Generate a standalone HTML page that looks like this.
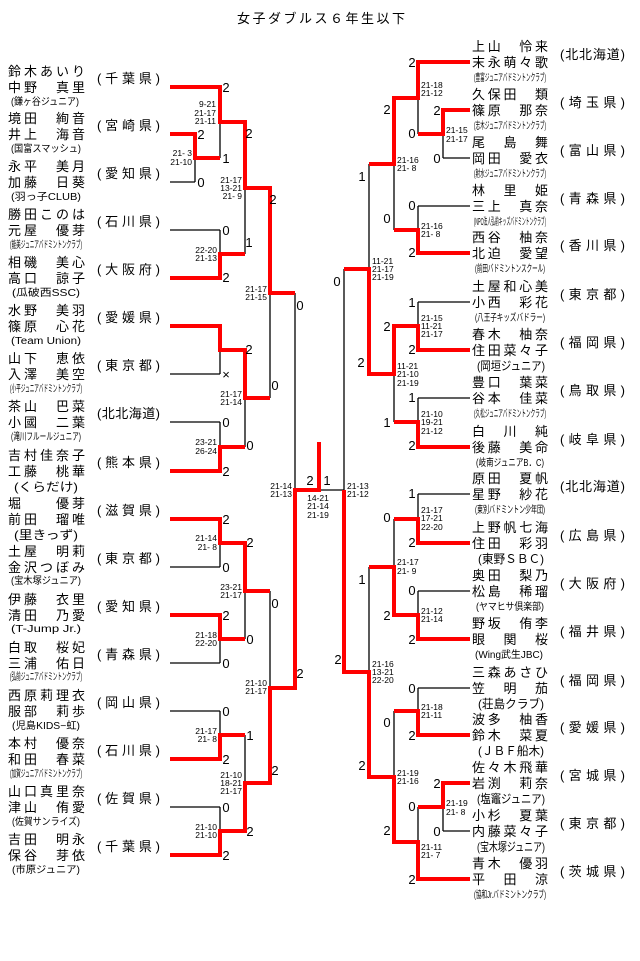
<!DOCTYPE html>
<html><head><meta charset="utf-8"><style>
html,body{margin:0;padding:0;background:#fff;width:640px;height:961px;overflow:hidden}
svg{display:block}
.n{font-family:"Liberation Sans","Noto Sans CJK JP",sans-serif;font-size:13px;fill:#000}
.c{font-family:"Liberation Sans","Noto Sans CJK JP",sans-serif;font-size:10px;fill:#000}
.cb{font-family:"Liberation Sans","Noto Sans CJK JP",sans-serif;font-size:12px;fill:#000}
.s{font-family:"Liberation Sans",sans-serif;font-size:13px;fill:#000}
.m{font-family:"Liberation Sans",sans-serif;font-size:8.5px;fill:#000}
</style></head><body>
<svg width="640" height="961" viewBox="0 0 640 961" xmlns="http://www.w3.org/2000/svg">
<text class="n" x="237" y="23" font-size="14" textLength="168" lengthAdjust="spacing">女子ダブルス６年生以下</text>

<path fill="none" stroke="#000" stroke-width="1.3" d="
M170 87H220 M170 134H195 M170 182H195 M170 230H220 M170 278H220 M170 326H220 M170 374H220 M170 422H220 M170 471H220 M170 519H220 M170 567H220 M170 615H220 M170 663H220 M170 711H220 M170 759H220 M170 807H220 M170 855H220
M195 134V182 M195 158H220 M220 87V158 M220 122H245 M220 230V278 M220 254H245 M245 122V254 M245 188H270 M220 326V374 M220 350H245 M220 422V471 M220 447H245 M245 350V447 M245 398H270 M270 188V398 M270 293H295 M220 519V567 M220 543H245 M220 615V663 M220 639H245 M245 543V639 M245 591H270 M220 711V759 M220 735H245 M220 807V855 M220 831H245 M245 735V831 M245 783H270 M270 591V783 M270 688H295 M295 293V688 M295 490H344
M470 62H418 M470 110H443 M470 158H443 M470 206H418 M470 253H418 M470 302H418 M470 350H418 M470 398H418 M470 447H418 M470 494H418 M470 543H418 M470 591H418 M470 639H418 M470 688H418 M470 735H418 M470 783H443 M470 831H443 M470 879H418
M443 110V158 M443 134H418 M418 62V134 M418 98H394 M418 206V253 M418 230H394 M394 98V230 M394 164H369 M418 302V350 M418 326H394 M418 398V447 M418 422H394 M394 326V422 M394 374H369 M369 164V374 M369 269H344 M418 494V543 M418 519H394 M418 591V639 M418 615H394 M394 519V615 M394 567H369 M418 688V735 M418 711H394 M443 783V831 M443 807H418 M418 807V879 M418 842H394 M394 711V842 M394 777H369 M369 567V777 M369 672H344 M344 269V672"/>

<path fill="none" stroke="#f00" stroke-width="4" stroke-linejoin="miter" d="
M170 87H220V122H245V188H270V293H295
M170 134H195V158H220
M170 278H220V254H245
M170 326H220V350H245V398H270
M170 471H220V447H245
M170 519H220V543H245V591H270
M170 615H220V639H245
M170 759H220V735H245
M170 855H220V831H245V783H270V688H295V490H319V442
M470 62H418V98H394V164H369
M470 110H443V134H418
M470 253H418V230H394
M470 350H418V326H394V374H369V269H344
M470 447H418V422H394
M470 543H418V519H394
M470 639H418V615H394V567H369
M470 735H418V711H394
M470 783H443V807H418
M470 879H418V842H394V777H369V672H344V490"/>

<!-- left entries -->
<g class="n">
<text x="8" y="76" textLength="77" lengthAdjust="spacing">鈴木あいり</text><text x="8" y="92" textLength="77" lengthAdjust="spacing">中野　真里</text>
<text x="8" y="123" textLength="77" lengthAdjust="spacing">境田　絢音</text><text x="8" y="139" textLength="77" lengthAdjust="spacing">井上　海音</text>
<text x="8" y="171" textLength="77" lengthAdjust="spacing">永平　美月</text><text x="8" y="187" textLength="77" lengthAdjust="spacing">加藤　日葵</text>
<text x="8" y="219" textLength="77" lengthAdjust="spacing">勝田このは</text><text x="8" y="235" textLength="77" lengthAdjust="spacing">元屋　優芽</text>
<text x="8" y="267" textLength="77" lengthAdjust="spacing">相磯　美心</text><text x="8" y="283" textLength="77" lengthAdjust="spacing">高口　諒子</text>
<text x="8" y="315" textLength="77" lengthAdjust="spacing">水野　美羽</text><text x="8" y="331" textLength="77" lengthAdjust="spacing">篠原　心花</text>
<text x="8" y="363" textLength="77" lengthAdjust="spacing">山下　恵依</text><text x="8" y="379" textLength="77" lengthAdjust="spacing">入澤　美空</text>
<text x="8" y="411" textLength="77" lengthAdjust="spacing">茶山　巴菜</text><text x="8" y="427" textLength="77" lengthAdjust="spacing">小國　二葉</text>
<text x="8" y="460" textLength="77" lengthAdjust="spacing">吉村佳奈子</text><text x="8" y="476" textLength="77" lengthAdjust="spacing">工藤　桃華</text>
<text x="8" y="508" textLength="77" lengthAdjust="spacing">堀　　優芽</text><text x="8" y="524" textLength="77" lengthAdjust="spacing">前田　瑠唯</text>
<text x="8" y="556" textLength="77" lengthAdjust="spacing">土屋　明莉</text><text x="8" y="572" textLength="77" lengthAdjust="spacing">金沢つぼみ</text>
<text x="8" y="604" textLength="77" lengthAdjust="spacing">伊藤　衣里</text><text x="8" y="620" textLength="77" lengthAdjust="spacing">清田　乃愛</text>
<text x="8" y="652" textLength="77" lengthAdjust="spacing">白取　桜妃</text><text x="8" y="668" textLength="77" lengthAdjust="spacing">三浦　佑日</text>
<text x="8" y="700" textLength="77" lengthAdjust="spacing">西原莉理衣</text><text x="8" y="716" textLength="77" lengthAdjust="spacing">服部　莉歩</text>
<text x="8" y="748" textLength="77" lengthAdjust="spacing">本村　優奈</text><text x="8" y="764" textLength="77" lengthAdjust="spacing">和田　春菜</text>
<text x="8" y="796" textLength="77" lengthAdjust="spacing">山口真里奈</text><text x="8" y="812" textLength="77" lengthAdjust="spacing">津山　侑愛</text>
<text x="8" y="844" textLength="77" lengthAdjust="spacing">吉田　明永</text><text x="8" y="860" textLength="77" lengthAdjust="spacing">保谷　芽依</text>
</g>
<g class="c">
<text x="11" y="105" textLength="68" lengthAdjust="spacingAndGlyphs">(鎌ヶ谷ジュニア)</text>
<text x="11" y="152" textLength="70" lengthAdjust="spacingAndGlyphs">(国富スマッシュ)</text>
<text x="11" y="200" textLength="70" lengthAdjust="spacingAndGlyphs">(羽っ子CLUB)</text>
<text x="10" y="248" textLength="72" lengthAdjust="spacingAndGlyphs">(能美ジュニアバドミントンクラブ)</text>
<text x="12" y="296" textLength="68" lengthAdjust="spacingAndGlyphs">(瓜破西SSC)</text>
<text x="11" y="344" textLength="70" lengthAdjust="spacingAndGlyphs">(Team Union)</text>
<text x="10" y="392" textLength="72" lengthAdjust="spacingAndGlyphs">(小平ジュニアバドミントンクラブ)</text>
<text x="11" y="440" textLength="70" lengthAdjust="spacingAndGlyphs">(滝川フルールジュニア)</text>
<text x="11" y="584" textLength="70" lengthAdjust="spacingAndGlyphs">(宝木塚ジュニア)</text>
<text x="11" y="632" textLength="70" lengthAdjust="spacingAndGlyphs">(T-Jump Jr.)</text>
<text x="10" y="680" textLength="72" lengthAdjust="spacingAndGlyphs">(弘前ジュニアバドミントンクラブ)</text>
<text x="12" y="729" textLength="68" lengthAdjust="spacingAndGlyphs">(児島KIDS−虹)</text>
<text x="10" y="777" textLength="72" lengthAdjust="spacingAndGlyphs">(加賀ジュニアバドミントンクラブ)</text>
<text x="12" y="825" textLength="68" lengthAdjust="spacingAndGlyphs">(佐賀サンライズ)</text>
<text x="12" y="873" textLength="68" lengthAdjust="spacingAndGlyphs">(市原ジュニア)</text>
</g>
<g class="cb">
<text x="14" y="491" textLength="64" lengthAdjust="spacingAndGlyphs">(くらだけ)</text>
<text x="14" y="539" textLength="64" lengthAdjust="spacingAndGlyphs">(里きっず)</text>
</g>
<g class="n">
<text x="97" y="83" textLength="63" lengthAdjust="spacing">(千葉県)</text>
<text x="97" y="130" textLength="63" lengthAdjust="spacing">(宮崎県)</text>
<text x="97" y="178" textLength="63" lengthAdjust="spacing">(愛知県)</text>
<text x="97" y="226" textLength="63" lengthAdjust="spacing">(石川県)</text>
<text x="97" y="274" textLength="63" lengthAdjust="spacing">(大阪府)</text>
<text x="97" y="322" textLength="63" lengthAdjust="spacing">(愛媛県)</text>
<text x="97" y="370" textLength="63" lengthAdjust="spacing">(東京都)</text>
<text x="97" y="418" textLength="63" lengthAdjust="spacing">(北北海道)</text>
<text x="97" y="467" textLength="63" lengthAdjust="spacing">(熊本県)</text>
<text x="97" y="515" textLength="63" lengthAdjust="spacing">(滋賀県)</text>
<text x="97" y="563" textLength="63" lengthAdjust="spacing">(東京都)</text>
<text x="97" y="611" textLength="63" lengthAdjust="spacing">(愛知県)</text>
<text x="97" y="659" textLength="63" lengthAdjust="spacing">(青森県)</text>
<text x="97" y="707" textLength="63" lengthAdjust="spacing">(岡山県)</text>
<text x="97" y="755" textLength="63" lengthAdjust="spacing">(石川県)</text>
<text x="97" y="803" textLength="63" lengthAdjust="spacing">(佐賀県)</text>
<text x="97" y="851" textLength="63" lengthAdjust="spacing">(千葉県)</text>
</g>

<!-- right entries -->
<g class="n">
<text x="472" y="51" textLength="76" lengthAdjust="spacing">上山　怜来</text><text x="472" y="67" textLength="76" lengthAdjust="spacing">末永萌々歌</text>
<text x="472" y="99" textLength="76" lengthAdjust="spacing">久保田　類</text><text x="472" y="115" textLength="76" lengthAdjust="spacing">篠原　那奈</text>
<text x="472" y="147" textLength="76" lengthAdjust="spacing">尾　島　舞</text><text x="472" y="163" textLength="76" lengthAdjust="spacing">岡田　愛衣</text>
<text x="472" y="195" textLength="76" lengthAdjust="spacing">林　里　姫</text><text x="472" y="211" textLength="76" lengthAdjust="spacing">三上　真奈</text>
<text x="472" y="242" textLength="76" lengthAdjust="spacing">西谷　柚奈</text><text x="472" y="258" textLength="76" lengthAdjust="spacing">北迫　愛望</text>
<text x="472" y="291" textLength="76" lengthAdjust="spacing">土屋和心美</text><text x="472" y="307" textLength="76" lengthAdjust="spacing">小西　彩花</text>
<text x="472" y="339" textLength="76" lengthAdjust="spacing">春木　柚奈</text><text x="472" y="355" textLength="76" lengthAdjust="spacing">住田菜々子</text>
<text x="472" y="387" textLength="76" lengthAdjust="spacing">豊口　葉菜</text><text x="472" y="403" textLength="76" lengthAdjust="spacing">谷本　佳菜</text>
<text x="472" y="436" textLength="76" lengthAdjust="spacing">白　川　純</text><text x="472" y="452" textLength="76" lengthAdjust="spacing">後藤　美命</text>
<text x="472" y="483" textLength="76" lengthAdjust="spacing">原田　夏帆</text><text x="472" y="499" textLength="76" lengthAdjust="spacing">星野　紗花</text>
<text x="472" y="532" textLength="76" lengthAdjust="spacing">上野帆七海</text><text x="472" y="548" textLength="76" lengthAdjust="spacing">住田　彩羽</text>
<text x="472" y="580" textLength="76" lengthAdjust="spacing">奥田　梨乃</text><text x="472" y="596" textLength="76" lengthAdjust="spacing">松島　稀瑠</text>
<text x="472" y="628" textLength="76" lengthAdjust="spacing">野坂　侑李</text><text x="472" y="644" textLength="76" lengthAdjust="spacing">眼　関　桜</text>
<text x="472" y="677" textLength="76" lengthAdjust="spacing">三森あさひ</text><text x="472" y="693" textLength="76" lengthAdjust="spacing">笠　明　茄</text>
<text x="472" y="724" textLength="76" lengthAdjust="spacing">波多　柚香</text><text x="472" y="740" textLength="76" lengthAdjust="spacing">鈴木　菜夏</text>
<text x="472" y="772" textLength="76" lengthAdjust="spacing">佐々木飛華</text><text x="472" y="788" textLength="76" lengthAdjust="spacing">岩渕　莉奈</text>
<text x="472" y="820" textLength="76" lengthAdjust="spacing">小杉　夏葉</text><text x="472" y="836" textLength="76" lengthAdjust="spacing">内藤菜々子</text>
<text x="472" y="868" textLength="76" lengthAdjust="spacing">青木　優羽</text><text x="472" y="884" textLength="76" lengthAdjust="spacing">平　田　涼</text>
</g>
<g class="c">
<text x="474" y="81" textLength="72" lengthAdjust="spacingAndGlyphs">(豊富ジュニアバドミントンクラブ)</text>
<text x="474" y="129" textLength="72" lengthAdjust="spacingAndGlyphs">(志木ジュニアバドミントンクラブ)</text>
<text x="474" y="177" textLength="72" lengthAdjust="spacingAndGlyphs">(射水ジュニアバドミントンクラブ)</text>
<text x="474" y="225" textLength="72" lengthAdjust="spacingAndGlyphs">(NPO法人弘前キッズバドミントンクラブ)</text>
<text x="475" y="272" textLength="70" lengthAdjust="spacingAndGlyphs">(前田バドミントンスクール)</text>
<text x="475" y="321" textLength="70" lengthAdjust="spacingAndGlyphs">(八王子キッズバドラー)</text>
<text x="474" y="417" textLength="72" lengthAdjust="spacingAndGlyphs">(久松ジュニアバドミントンクラブ)</text>
<text x="476" y="466" textLength="68" lengthAdjust="spacingAndGlyphs">(岐南ジュニアB．C)</text>
<text x="475" y="513" textLength="70" lengthAdjust="spacingAndGlyphs">(東別バドミントン少年団)</text>
<text x="476" y="610" textLength="68" lengthAdjust="spacingAndGlyphs">(ヤマヒサ倶楽部)</text>
<text x="475" y="658" textLength="68" lengthAdjust="spacingAndGlyphs">(Wing武生JBC)</text>
<text x="474" y="898" textLength="72" lengthAdjust="spacingAndGlyphs">(協和Jr.バドミントンクラブ)</text>
</g>
<g class="cb">
<text x="477" y="370" textLength="68" lengthAdjust="spacingAndGlyphs">(岡垣ジュニア)</text>
<text x="478" y="563" textLength="66" lengthAdjust="spacingAndGlyphs">(東野ＳＢＣ)</text>
<text x="478" y="708" textLength="66" lengthAdjust="spacingAndGlyphs">(荘島クラブ)</text>
<text x="478" y="755" textLength="66" lengthAdjust="spacingAndGlyphs">(ＪＢＦ船木)</text>
<text x="477" y="803" textLength="68" lengthAdjust="spacingAndGlyphs">(塩竈ジュニア)</text>
<text x="477" y="851" textLength="68" lengthAdjust="spacingAndGlyphs">(宝木塚ジュニア)</text>
</g>
<g class="n">
<text x="560" y="59" textLength="65" lengthAdjust="spacing">(北北海道)</text>
<text x="560" y="107" textLength="65" lengthAdjust="spacing">(埼玉県)</text>
<text x="560" y="155" textLength="65" lengthAdjust="spacing">(富山県)</text>
<text x="560" y="203" textLength="65" lengthAdjust="spacing">(青森県)</text>
<text x="560" y="250" textLength="65" lengthAdjust="spacing">(香川県)</text>
<text x="560" y="299" textLength="65" lengthAdjust="spacing">(東京都)</text>
<text x="560" y="347" textLength="65" lengthAdjust="spacing">(福岡県)</text>
<text x="560" y="395" textLength="65" lengthAdjust="spacing">(鳥取県)</text>
<text x="560" y="444" textLength="65" lengthAdjust="spacing">(岐阜県)</text>
<text x="560" y="491" textLength="65" lengthAdjust="spacing">(北北海道)</text>
<text x="560" y="540" textLength="65" lengthAdjust="spacing">(広島県)</text>
<text x="560" y="588" textLength="65" lengthAdjust="spacing">(大阪府)</text>
<text x="560" y="636" textLength="65" lengthAdjust="spacing">(福井県)</text>
<text x="560" y="685" textLength="65" lengthAdjust="spacing">(福岡県)</text>
<text x="560" y="732" textLength="65" lengthAdjust="spacing">(愛媛県)</text>
<text x="560" y="780" textLength="65" lengthAdjust="spacing">(宮城県)</text>
<text x="560" y="828" textLength="65" lengthAdjust="spacing">(東京都)</text>
<text x="560" y="876" textLength="65" lengthAdjust="spacing">(茨城県)</text>
</g>

<!-- game scores -->
<g class="s" text-anchor="middle">
<text x="226" y="92">2</text><text x="201" y="139">2</text><text x="201" y="187">0</text><text x="226" y="163">1</text>
<text x="249" y="138">2</text><text x="249" y="247">1</text><text x="226" y="235">0</text><text x="226" y="282">2</text>
<text x="273" y="204">2</text><text x="275" y="390">0</text><text x="300" y="310">0</text><text x="300" y="678">2</text>
<text x="249" y="354">2</text><text x="226" y="379">×</text><text x="250" y="450">0</text><text x="226" y="427">0</text><text x="226" y="476">2</text>
<text x="226" y="524">2</text><text x="226" y="572">0</text><text x="250" y="547">2</text><text x="250" y="644">0</text>
<text x="226" y="620">2</text><text x="226" y="668">0</text><text x="275" y="608">0</text><text x="275" y="775">2</text>
<text x="226" y="716">0</text><text x="226" y="764">2</text><text x="250" y="740">1</text><text x="250" y="836">2</text>
<text x="226" y="812">0</text><text x="226" y="860">2</text>
<text x="310" y="485">2</text><text x="327" y="485">1</text>

<text x="412" y="67">2</text><text x="437" y="115">2</text><text x="437" y="163">0</text><text x="412" y="138">0</text>
<text x="387" y="114">2</text><text x="387" y="223">0</text><text x="362" y="181">1</text>
<text x="412" y="210">0</text><text x="412" y="257">2</text><text x="337" y="286">0</text><text x="361" y="367">2</text>
<text x="387" y="331">2</text><text x="387" y="427">1</text>
<text x="412" y="307">1</text><text x="412" y="354">2</text><text x="412" y="402">1</text><text x="412" y="450">2</text>
<text x="412" y="498">1</text><text x="338" y="664">2</text><text x="412" y="547">2</text>
<text x="387" y="522">0</text><text x="387" y="620">2</text><text x="362" y="584">1</text><text x="362" y="770">2</text>
<text x="412" y="595">0</text><text x="412" y="644">2</text><text x="412" y="693">0</text><text x="412" y="740">2</text>
<text x="387" y="727">0</text><text x="387" y="835">2</text><text x="437" y="788">2</text><text x="437" y="836">0</text>
<text x="412" y="811">0</text><text x="412" y="884">2</text>
</g>

<!-- set scores left -->
<g class="m" text-anchor="end">
<text x="216" y="107">9-21</text><text x="216" y="116">21-17</text><text x="216" y="124">21-11</text>
<text x="192" y="156">21- 3</text><text x="192" y="165">21-10</text>
<text x="242" y="183">21-17</text><text x="242" y="191">13-21</text><text x="242" y="199">21- 9</text>
<text x="217" y="253">22-20</text><text x="217" y="261">21-13</text>
<text x="267" y="292">21-17</text><text x="267" y="300">21-15</text>
<text x="242" y="397">21-17</text><text x="242" y="405">21-14</text>
<text x="217" y="445">23-21</text><text x="217" y="454">26-24</text>
<text x="292" y="489">21-14</text><text x="292" y="497">21-13</text>
<text x="217" y="541">21-14</text><text x="217" y="550">21- 8</text>
<text x="242" y="590">23-21</text><text x="242" y="598">21-17</text>
<text x="217" y="638">21-18</text><text x="217" y="646">22-20</text>
<text x="267" y="686">21-10</text><text x="267" y="694">21-17</text>
<text x="217" y="734">21-17</text><text x="217" y="742">21- 8</text>
<text x="242" y="778">21-10</text><text x="242" y="786">18-21</text><text x="242" y="794">21-17</text>
<text x="217" y="830">21-10</text><text x="217" y="838">21-10</text>
</g>
<g class="m" text-anchor="middle">
<text x="318" y="501">14-21</text><text x="318" y="509">21-14</text><text x="318" y="518">21-19</text>
</g>
<g class="m">
<text x="421" y="88">21-18</text><text x="421" y="96">21-12</text>
<text x="446" y="133">21-15</text><text x="446" y="142">21-17</text>
<text x="397" y="163">21-16</text><text x="397" y="171">21- 8</text>
<text x="421" y="229">21-16</text><text x="421" y="237">21- 8</text>
<text x="372" y="264">11-21</text><text x="372" y="272">21-17</text><text x="372" y="280">21-19</text>
<text x="421" y="321">21-15</text><text x="421" y="329">11-21</text><text x="421" y="337">21-17</text>
<text x="397" y="369">11-21</text><text x="397" y="377">21-10</text><text x="397" y="386">21-19</text>
<text x="421" y="417">21-10</text><text x="421" y="425">19-21</text><text x="421" y="434">21-12</text>
<text x="347" y="489">21-13</text><text x="347" y="497">21-12</text>
<text x="421" y="513">21-17</text><text x="421" y="521">17-21</text><text x="421" y="530">22-20</text>
<text x="397" y="565">21-17</text><text x="397" y="574">21- 9</text>
<text x="421" y="614">21-12</text><text x="421" y="622">21-14</text>
<text x="372" y="667">21-16</text><text x="372" y="675">13-21</text><text x="372" y="683">22-20</text>
<text x="421" y="710">21-18</text><text x="421" y="718">21-11</text>
<text x="397" y="776">21-19</text><text x="397" y="784">21-16</text>
<text x="446" y="806">21-19</text><text x="446" y="815">21- 8</text>
<text x="421" y="850">21-11</text><text x="421" y="858">21- 7</text>
</g>
</svg>
</body></html>
